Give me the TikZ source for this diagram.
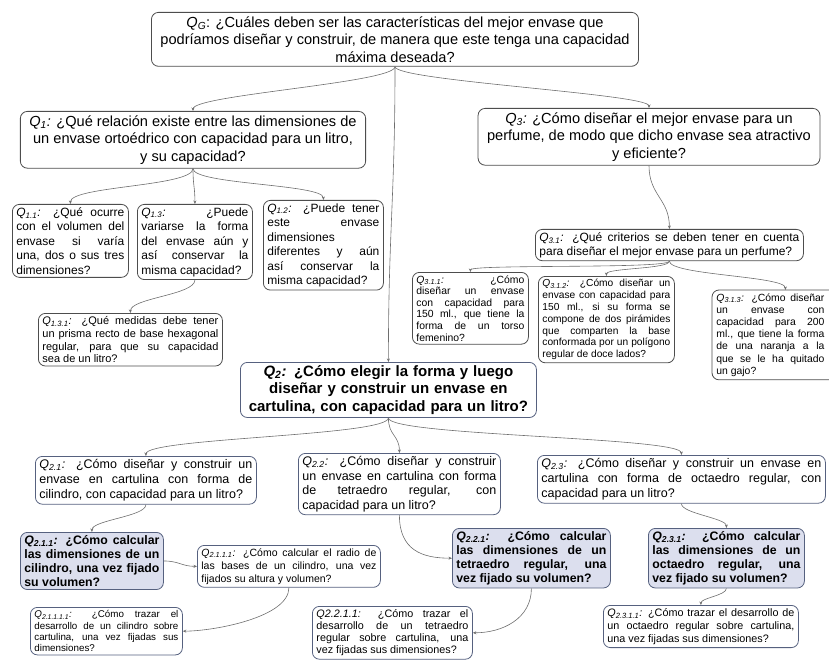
\documentclass[tikz,border=0pt]{standalone}
\usepackage{fontspec}
\setmainfont{Liberation Sans}
\usetikzlibrary{arrows.meta}
\definecolor{edgegray}{HTML}{4D4D4D}
\definecolor{slate}{HTML}{56617F}
\definecolor{lav}{HTML}{DCDFEE}
\definecolor{linkgray}{HTML}{6E6E6E}
\newcommand{\qs}[1]{\textit{Q\textsubscript{#1}:}}
\newcommand{\fs}[2]{\fontsize{#1}{#2}\selectfont\hyphenpenalty=10000\exhyphenpenalty=10000}
\begin{document}
\begin{tikzpicture}[x=1pt,y=-1pt,
    box/.style={draw=edgegray, line width=0.8pt, rounded corners=7pt, inner xsep=4pt,
      inner ysep=3pt, anchor=north west, align=justify},
    bigbox/.style={box, anchor=north, align=center, inner xsep=9pt, inner ysep=4pt,
      font=\fs{14.6}{17.5}},
    qbox/.style={box, draw=slate},
    keybox/.style={qbox, fill=lav, font=\bfseries\fs{12.3}{14}},
    link/.style={draw=linkgray, line width=0.6pt, -{Stealth[length=3.5pt,width=3pt]}}]
  \useasboundingbox (0,0) rectangle (829,660);
  \clip (0,0) rectangle (829,660);

  % general question and first level
  \node[bigbox] (qg) at (395,12)
    {\textit{Q}\textsubscript{\textit{G}}: ¿Cuáles deben ser las características del mejor envase que\\
     podríamos diseñar y construir, de manera que este tenga una capacidad\\ máxima deseada?};
  \node[bigbox] (q1) at (193,111)
    {\qs{1} ¿Qué relación existe entre las dimensiones de\\
     un envase ortoédrico con capacidad para un litro,\\ y su capacidad?};
  \node[bigbox] (q3) at (649,108)
    {\qs{3} ¿Cómo diseñar el mejor envase para un\\
     perfume, de modo que dicho envase sea atractivo\\ y eficiente?};

  % Q1 branch
  \node[box, font=\fs{12}{14.5}, text width=108] (q11) at (12,204)
    {\qs{1.1} ¿Qué ocurre\linebreak con el volumen del\linebreak envase si varía\linebreak
     una, dos o sus tres\linebreak dimensiones?};
  \node[box, font=\fs{12}{14.5}, text width=107] (q13) at (137,204)
    {\qs{1.3} ¿Puede\linebreak variarse la forma\linebreak del envase aún y\linebreak
     así conservar la\linebreak misma capacidad?};
  \node[box, font=\fs{12}{14.5}, text width=112] (q12) at (263,200)
    {\qs{1.2} ¿Puede tener\linebreak este envase\linebreak dimensiones\linebreak
     diferentes y aún\linebreak así conservar la\linebreak misma capacidad?};
  \node[box, font=\fs{11}{12.8}, text width=176] (q131) at (38,313)
    {\qs{1.3.1} ¿Qué medidas debe tener\linebreak un prisma recto de base hexagonal\linebreak
     regular, para que su capacidad\linebreak sea de un litro?};

  % Q3 branch
  \node[box, font=\fs{12}{14}, text width=260] (q31) at (535,229)
    {\qs{3.1} ¿Qué criterios se deben tener en cuenta\linebreak
     para diseñar el mejor envase para un perfume?};
  \node[box, font=\fs{10.4}{11.6}, text width=108] (q311) at (412,272)
    {\qs{3.1.1} ¿Cómo\linebreak diseñar un envase\linebreak con capacidad para\linebreak
     150 ml., que tiene la\linebreak forma de un torso\linebreak femenino?};
  \node[box, font=\fs{10.2}{11.8}, text width=128] (q312) at (538,276)
    {\qs{3.1.2} ¿Cómo diseñar un\linebreak envase con capacidad para\linebreak
     150 ml., si su forma se\linebreak compone de dos pirámides\linebreak que comparten la base\linebreak
     conformada por un polígono\linebreak regular de doce lados?};
  \node[box, draw=none, font=\fs{10.4}{12.2}, text width=108] (q313) at (712,290)
    {\qs{3.1.3} ¿Cómo diseñar\linebreak un envase con\linebreak capacidad para 200\linebreak
     ml., que tiene la forma\linebreak de una naranja a la\linebreak que se le ha quitado\linebreak un gajo?};
  \draw[draw=edgegray, line width=0.8pt, rounded corners=7pt]
    (q313.north west) rectangle ([xshift=30pt]q313.south east);

  % Q2 branch
  \node[qbox, align=center, font=\bfseries\fs{15}{17.5}, text width=288] (q2) at (240,362)
    {\qs{2} ¿Cómo elegir la forma y luego\\ diseñar y construir un envase en\\
     cartulina, con capacidad para un litro?};
  \node[qbox, font=\fs{12.5}{15}, text width=213] (q21) at (35,456)
    {\qs{2.1} ¿Cómo diseñar y construir un\linebreak envase en cartulina con forma de\linebreak
     cilindro, con capacidad para un litro?};
  \node[qbox, font=\fs{12.5}{14.5}, text width=194] (q22) at (298,453)
    {\qs{2.2} ¿Cómo diseñar y construir\linebreak un envase en cartulina con forma\linebreak
     de tetraedro regular, con\linebreak capacidad para un litro?};
  \node[qbox, font=\fs{12.5}{15}, text width=280] (q23) at (537,455)
    {\qs{2.3} ¿Cómo diseñar y construir un envase en\linebreak
     cartulina con forma de octaedro regular, con\linebreak capacidad para un litro?};

  \node[keybox, text width=135] (q211) at (20,532)
    {\qs{2.1.1} ¿Cómo calcular\linebreak las dimensiones de un\linebreak
     cilindro, una vez fijado\linebreak su volumen?};
  \node[qbox, font=\fs{10.5}{13}, text width=175] (q2111) at (197,545)
    {\qs{2.1.1.1} ¿Cómo calcular el radio de\linebreak las bases de un cilindro, una vez\linebreak
     fijados su altura y volumen?};
  \node[qbox, font=\fs{9.8}{11.4}, text width=144] (q21111) at (30,607)
    {\qs{2.1.1.1.1} ¿Cómo trazar el\linebreak desarrollo de un cilindro sobre\linebreak
     cartulina, una vez fijadas sus\linebreak dimensiones?};
  \node[keybox, text width=150] (q221) at (452,528)
    {\qs{2.2.1} ¿Cómo calcular\linebreak las dimensiones de un\linebreak
     tetraedro regular, una\linebreak vez fijado su volumen?};
  \node[qbox, font=\fs{10.8}{12.2}, text width=152] (q2211) at (312,606)
    {\textit{Q2.2.1.1:} ¿Cómo trazar el\linebreak desarrollo de un tetraedro\linebreak
     regular sobre cartulina, una\linebreak vez fijadas sus dimensiones?};
  \node[keybox, text width=148] (q231) at (648,528)
    {\qs{2.3.1} ¿Cómo calcular\linebreak las dimensiones de un\linebreak
     octaedro regular, una\linebreak vez fijado su volumen?};
  \node[qbox, font=\fs{10.8}{13}, text width=187] (q2311) at (603,605)
    {\qs{2.3.1.1} ¿Cómo trazar el desarrollo de\linebreak un octaedro regular sobre cartulina,\linebreak
     una vez fijadas sus dimensiones?};

  \begin{scope}[link]
    \draw (qg.south) .. controls +(0,16) and +(0,-16) .. (q1.north);
    \draw (qg.south) .. controls +(0,130) and +(0,-130) .. (q2.north);
    \draw (qg.south) .. controls +(0,14) and +(0,-14) .. (q3.north);
    \draw (q1.south) .. controls +(0,18) and +(0,-18) .. (q11.north);
    \draw (q1.south) .. controls +(0,18) and +(0,-18) .. (q13.north);
    \draw (q1.south) .. controls +(0,16) and +(0,-16) .. (q12.north);
    \draw (q13.south) .. controls +(0,15) and +(0,-15) .. (q131.north);
    \draw (q3.south) .. controls +(0,30) and +(0,-30) .. (q31.north);
    \draw (q31.south) .. controls +(0,8) and +(0,-8) .. (q311.north);
    \draw (q31.south) .. controls +(0,8) and +(0,-8) .. (q312.north);
    \draw (q31.south) .. controls +(0,14) and +(0,-14) .. ([xshift=15pt]q313.north);
    \draw (q2.south) .. controls +(0,18) and +(0,-18) .. (q21.north);
    \draw (q2.south) .. controls +(0,18) and +(0,-18) .. (q22.north);
    \draw (q2.south) .. controls +(0,18) and +(0,-18) .. (q23.north);
    \draw (q21.south) .. controls +(0,12) and +(0,-12) .. (q211.north);
    \draw (q211.east) .. controls +(15,0) and +(-15,0) .. (q2111.west);
    \draw (q2111.south) .. controls +(0,30) and +(30,0) .. (q21111.east);
    \draw (q22.south) .. controls +(0,35) and +(-30,0) .. (q221.west);
    \draw (q221.south) .. controls +(0,30) and +(30,0) .. (q2211.east);
    \draw (q23.south) .. controls +(0,10) and +(0,-10) .. (q231.north);
    \draw (q231.south) .. controls +(0,7) and +(0,-7) .. (q2311.north);
  \end{scope}
\end{tikzpicture}
\end{document}
